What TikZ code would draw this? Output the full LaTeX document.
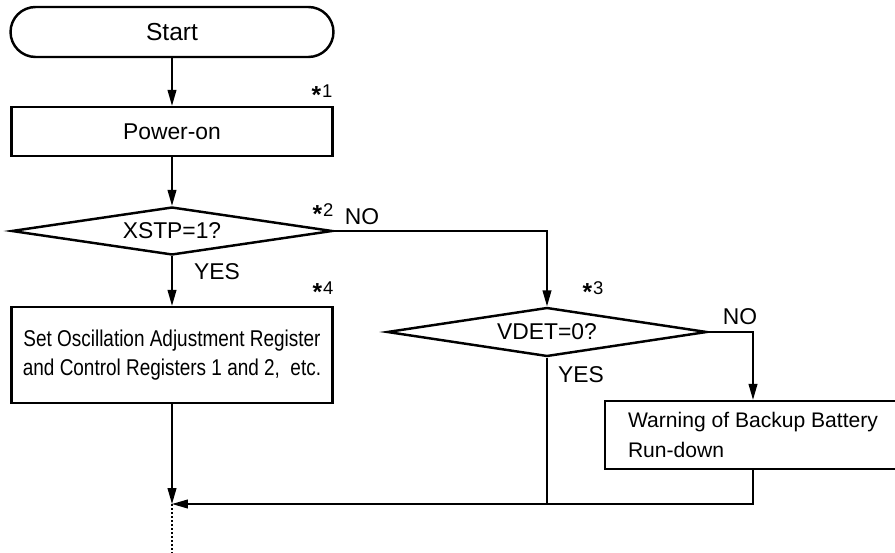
\documentclass[tikz,border=0pt]{standalone}
\usepackage{fontspec}
\setmainfont{Liberation Sans}
\newfontfamily\narrowsans{Liberation Sans}[FakeStretch=0.83]
\usetikzlibrary{arrows.meta,shapes.geometric}
\newcommand{\starnote}[1]{\raisebox{-3.4pt}{\fontsize{14}{14}\selectfont\bfseries *}\kern0.5pt#1}

\begin{document}
\begin{tikzpicture}[x=0.02cm,y=-0.02cm,>={Triangle[length=9pt,width=5pt]},
  flow/.style={line width=0.75pt},
  terminal/.style={draw,line width=1.4pt,rounded corners=0.5cm,inner sep=0pt,
    minimum width=6.46cm,minimum height=1cm,font=\fontsize{14}{17}\selectfont},
  proc/.style={draw,line width=1.4pt,inner sep=0pt,font=\fontsize{13}{16.5}\selectfont},
  decision/.style={draw,diamond,aspect=6.6,line width=1.4pt,inner sep=0pt,
    font=\fontsize{13}{16}\selectfont},
  branch/.style={font=\fontsize{13}{15}\selectfont},
  note/.style={font=\fontsize{10.5}{12}\selectfont,inner sep=0pt}]
\useasboundingbox (0,0) rectangle (895,553);
% ---------- main column ----------
\node[terminal] (start) at (172,32) {Start};
\node[proc,minimum width=6.42cm,minimum height=0.98cm] (power) at (172,131.5) {Power-on};
\node[decision,minimum width=6.42cm,minimum height=0.96cm] (xstp) at (172,231) {XSTP=1?};
\node[proc,minimum width=6.42cm,minimum height=1.92cm,align=center,
  font=\narrowsans\fontsize{13}{16.5}\selectfont] (set) at (172,355)
  {Set Oscillation Adjustment Register\\and Control Registers 1 and 2,~~etc.};
% ---------- NO branch ----------
\node[decision,minimum width=6.4cm,minimum height=0.98cm] (vdet) at (547,332) {VDET=0?};
\node[proc,minimum width=5.92cm,minimum height=1.36cm,align=left,
  font=\fontsize{12}{17}\selectfont] (warn) at (753,435)
  {Warning of Backup Battery\\Run-down};
% notes and branch labels
\node[note] (n1) at (322,94) {\starnote{1}};
\node[note] (n2) at (323,213) {\starnote{2}};
\node[note] (n3) at (593,291) {\starnote{3}};
\node[note] (n4) at (323,291) {\starnote{4}};
\node[branch] (yes1) at (217,272) {YES};
\node[branch] (no1) at (362,217) {NO};
\node[branch] (no2) at (740,317) {NO};
\node[branch] (yes2) at (581,375) {YES};
% ---------- connectors ----------
\coordinate (merge) at (172,504);
\coordinate (exit) at (172,553);
\draw[flow,->] (start) -- (power);
\draw[flow,->] (power) -- (xstp);
\draw[flow,->] (xstp) -- (set);
\draw[flow,->] (xstp.east) -| (vdet.north);
\draw[flow,->] (vdet.east) -| (warn.north);
\draw[flow] (vdet.south) -- (vdet.south |- merge);
\draw[flow,->] (warn.south) |- (merge);
\draw[flow,->] (set) -- (merge);
\draw[flow,dash pattern=on 1pt off 1.3pt] (merge) -- (exit);
\end{tikzpicture}
\end{document}
